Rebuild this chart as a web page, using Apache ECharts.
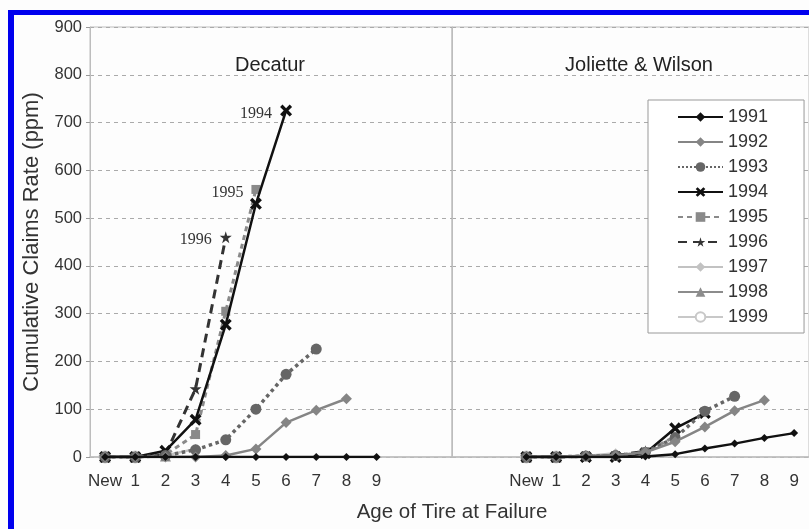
<!DOCTYPE html>
<html><head><meta charset="utf-8">
<script src="https://cdn.jsdelivr.net/npm/echarts@6/dist/echarts.min.js"></script>
<style>html,body{margin:0;padding:0;background:#fdfdfd}#c{width:809px;height:529px}</style>
</head><body><div id="c"></div>
<script>
// ---- data ----
const ageLabels = ['New','1','2','3','4','5','6','7','8','9'];
const years = ['1991','1992','1993','1994','1995','1996','1997','1998','1999'];
const yTicks = [0,100,200,300,400,500,600,700,800,900];
const panelTitles = ['Decatur','Joliette & Wilson'];
const annotatedYears = ['1994','1995','1996'];

// Decatur cumulative claims rate (ppm), by age New..9
const dec1991 = [0,0,0,0,0,0,0,0,0,0];
const dec1992 = [0,0,0,0,3,17,72,98,122];
const dec1993 = [0,0,3,15,36,100,173,226];
const dec1994 = [0,0,13,78,277,530,725];
const dec1995 = [0,0,5,47,305,560];
const dec1996 = [0,0,5,143,460];
const dec1997 = [0,0,3,17];
const dec1998 = [0,0,2];
const dec1999 = [0,0];

// Joliette & Wilson
const jw1991 = [0,0,0,0,1,6,18,28,40,50];
const jw1992 = [0,0,2,3,10,32,63,97,119];
const jw1993 = [0,0,2,3,10,40,96,127];
const jw1994 = [0,0,0,0,8,60,92];
const jw1995 = [0,0,1,2,10,43];
const jw1996 = [0,0,1,3,12];
const jw1997 = [0,0,2,8];
const jw1998 = [0,0,3];
const jw1999 = [0,0];

const decatur = [dec1991,dec1992,dec1993,dec1994,dec1995,dec1996,dec1997,dec1998,dec1999];
const joliette = [jw1991,jw1992,jw1993,jw1994,jw1995,jw1996,jw1997,jw1998,jw1999];

// ---- styles ----
const X_PATH = 'path://M2,0 L5,3 L8,0 L10,2 L7,5 L10,8 L8,10 L5,7 L2,10 L0,8 L3,5 L0,2 Z';
const STAR_PATH = 'path://M50,0 L61,35 L98,35 L68,57 L79,91 L50,70 L21,91 L32,57 L2,35 L39,35 Z';
const styles = [
  {color:'#111', type:'solid', width:2.5, symbol:'diamond', size:8},
  {color:'#858585', type:'solid', width:2.5, symbol:'diamond', size:11},
  {color:'#666', type:'dotted', width:3.5, symbol:'circle', size:11},
  {color:'#111', type:'solid', width:2.5, symbol:X_PATH, size:12},
  {color:'#8a8a8a', type:[5,4], width:3, symbol:'rect', size:9},
  {color:'#333', type:[9,6], width:3, symbol:STAR_PATH, size:12},
  {color:'#c2c2c2', type:'solid', width:2.5, symbol:'diamond', size:10},
  {color:'#8c8c8c', type:'solid', width:2.5, symbol:'triangle', size:11},
  {color:'#c8c8c8', type:'solid', width:2, symbol:'emptyCircle', size:11}
];
const FONT = 'Liberation Sans, Arial, Helvetica, sans-serif';

function makeSeries(vals, idx, grid, pad) {
  const st = styles[idx];
  const name = years[idx];
  const data = [];
  for (let i = 0; i < pad; i++) data.push(null);
  vals.forEach((v, i) => {
    if (grid === 0 && i === vals.length - 1 && annotatedYears.includes(name)) {
      data.push({value: v, label: {show: true, formatter: name, position: 'left', distance: 8, offset: [0, 3],
        fontFamily: 'Liberation Serif, Times New Roman, serif', fontSize: 16, color: '#333'}});
    } else data.push(v);
  });
  return {
    name, type: 'line', xAxisIndex: grid, yAxisIndex: grid, data,
    symbol: st.symbol, symbolSize: st.size, connectNulls: false, animation: false,
    lineStyle: {color: st.color, width: st.width, type: st.type},
    itemStyle: {color: st.color, borderColor: st.color, borderWidth: st.symbol === 'emptyCircle' ? 2 : 0},
    z: 10 - idx
  };
}

const series = [];
decatur.forEach((v, i) => series.push(makeSeries(v, i, 0, 0)));
joliette.forEach((v, i) => series.push(makeSeries(v, i, 1, 2)));

const leftCats = ageLabels.concat(['', '']);
const rightCats = ['', ''].concat(ageLabels);

const gridBase = {top: 27, height: 430, width: 362, show: true, borderColor: '#bdbdbd', borderWidth: 1, backgroundColor: 'transparent'};
const xBase = {type: 'category', boundaryGap: true, axisTick: {show: false},
  axisLine: {lineStyle: {color: '#bdbdbd', width: 1.5}},
  axisLabel: {interval: 0, fontSize: 17, color: '#333', margin: 16, fontFamily: FONT}};
const yBase = {type: 'value', min: yTicks[0], max: yTicks[yTicks.length - 1], interval: yTicks[1] - yTicks[0],
  splitLine: {lineStyle: {color: '#aaa', type: [4, 4]}},
  axisLine: {show: true, lineStyle: {color: '#bdbdbd'}}};

const chart = echarts.init(document.getElementById('c'), null, {renderer: 'canvas'});
chart.setOption({
  backgroundColor: '#fdfdfd',
  animation: false,
  textStyle: {fontFamily: FONT},
  title: [
    {text: panelTitles[0], left: 265, top: 50, textAlign: 'center', textStyle: {fontSize: 20, fontWeight: 'normal', color: '#222', fontFamily: FONT}},
    {text: panelTitles[1], left: 634, top: 50, textAlign: 'center', textStyle: {fontSize: 20, fontWeight: 'normal', color: '#222', fontFamily: FONT}}
  ],
  grid: [Object.assign({left: 90}, gridBase), Object.assign({left: 452}, gridBase)],
  xAxis: [Object.assign({gridIndex: 0, data: leftCats}, xBase), Object.assign({gridIndex: 1, data: rightCats}, xBase)],
  yAxis: [
    Object.assign({gridIndex: 0, name: 'Cumulative Claims Rate (ppm)', nameLocation: 'middle', nameGap: 47,
      nameTextStyle: {fontSize: 22, color: '#333', fontFamily: FONT},
      axisTick: {show: true, length: 4, lineStyle: {color: '#999'}},
      axisLabel: {fontSize: 16.5, color: '#333', margin: 8, fontFamily: FONT}}, yBase),
    Object.assign({gridIndex: 1, axisTick: {show: false}, axisLabel: {show: false}}, yBase)
  ],
  legend: {
    orient: 'vertical', left: 648, top: 100, data: years,
    itemWidth: 45, itemHeight: 12, itemGap: 7.0,
    padding: [8, 36, 7, 29],
    backgroundColor: '#fff', borderColor: '#999', borderWidth: 1,
    textStyle: {fontSize: 18, color: '#333', fontFamily: FONT}
  },
  graphic: [
    {type: 'text', x: 452, y: 502, style: {text: 'Age of Tire at Failure', font: '20.5px ' + FONT, fill: '#333', textAlign: 'center'}},
    {type: 'rect', shape: {x: 8, y: 10, width: 6, height: 519}, style: {fill: '#0000ee'}, z: 100},
    {type: 'rect', shape: {x: 8, y: 10, width: 801, height: 5}, style: {fill: '#0000ee'}, z: 100}
  ],
  series
});
</script></body></html>
